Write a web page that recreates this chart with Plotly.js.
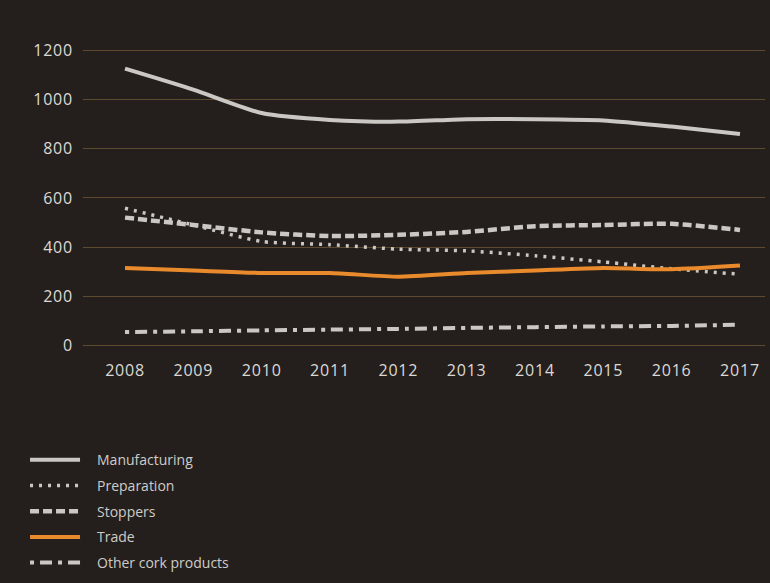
<!DOCTYPE html>
<html>
<head>
<meta charset="utf-8">
<script src="https://cdn.plot.ly/plotly-3.0.1.min.js"></script>
<style>
html,body{margin:0;padding:0;background:#241f1c;}
#chart{width:770px;height:583px;}
#chart .xtick text, #chart .ytick text{letter-spacing:0.8px;}
</style>
</head>
<body>
<div id="chart"></div>
<script>
const years = [2008, 2009, 2010, 2011, 2012, 2013, 2014, 2015, 2016, 2017];
const manufacturing = [1125, 1040, 945, 917, 910, 920, 920, 915, 890, 860];
const preparation = [558, 490, 423, 410, 392, 385, 365, 340, 312, 290];
const stoppers = [520, 490, 460, 445, 450, 462, 485, 490, 495, 470];
const trade = [315, 305, 295, 295, 280, 295, 305, 315, 310, 325];
const other = [55, 58, 62, 65, 68, 72, 75, 78, 80, 85];
const yTicks = [0, 200, 400, 600, 800, 1000, 1200];

const grey = '#cbc8c4';
const orange = '#e98a2c';

function tr(name, y, color, width, dash, g) {
  return {
    x: years, y: y, name: name, type: 'scatter', mode: 'lines',
    legendgroup: g,
    line: {color: color, width: width, dash: dash, shape: 'spline', smoothing: 0.6},
    hoverinfo: 'skip'
  };
}

const data = [
  tr('Manufacturing', manufacturing, grey, 4, 'solid', 'a'),
  tr('Preparation', preparation, grey, 3.5, '3px,6px', 'b'),
  tr('Stoppers', stoppers, grey, 4.5, '9px,4px', 'c'),
  tr('Trade', trade, orange, 4, 'solid', 'd'),
  tr('Other cork products', other, grey, 4, '4px,6px,12px,6px', 'e')
];

const layout = {
  width: 770, height: 583,
  paper_bgcolor: '#241f1c',
  plot_bgcolor: '#241f1c',
  margin: {l: 83, r: 5, t: 33, b: 230},
  font: {family: 'Open Sans, sans-serif', color: '#dcd9d5', size: 16},
  xaxis: {
    range: [2007.385, 2017.366],
    tickvals: years,
    ticktext: years.map(String),
    showgrid: false, zeroline: false, showline: false,
    ticks: '',
    ticklabelstandoff: 6,
    tickfont: {size: 16, color: '#dcd9d5'},
    fixedrange: true
  },
  yaxis: {
    range: [-30, 1270],
    tickvals: yTicks,
    showgrid: true, gridcolor: '#5e4a2e', gridwidth: 1,
    zeroline: false, showline: false,
    ticks: '',
    ticklabelstandoff: 9,
    tickfont: {size: 16, color: '#dcd9d5'},
    fixedrange: true
  },
  showlegend: true,
  legend: {
    x: -0.085, xanchor: 'left',
    y: -0.285, yanchor: 'top',
    bgcolor: 'rgba(0,0,0,0)',
    font: {size: 14, color: '#cfccc8'},
    itemwidth: 50,
    tracegroupgap: 4.5,
    traceorder: 'grouped'
  }
};

Plotly.newPlot('chart', data, layout, {displayModeBar: false, staticPlot: true}).then(function () {
  document.querySelectorAll('#chart .legend .scrollbox').forEach(function (s) {
    s.removeAttribute('clip-path');
  });
  document.querySelectorAll('#chart .legendtext').forEach(function (t) {
    t.setAttribute('x', parseFloat(t.getAttribute('x')) + 12);
  });
});
</script>
</body>
</html>
